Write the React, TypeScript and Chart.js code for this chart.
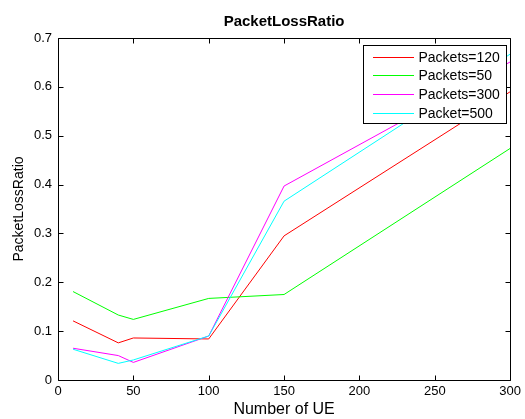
import React, { useEffect, useRef } from "react";
import { Chart, registerables } from "chart.js";

Chart.register(...registerables);

const xValues = [10, 40, 50, 100, 150, 300];
const seriesLabels = ["Packets=120", "Packets=50", "Packets=300", "Packet=500"];
const seriesColors = ["#ff0000", "#00ff00", "#ff00ff", "#00ffff"];
const packets120 = [0.121, 0.076, 0.086, 0.084, 0.295, 0.59];
const packets50 = [0.181, 0.133, 0.124, 0.167, 0.175, 0.474];
const packets300 = [0.065, 0.05, 0.036, 0.09, 0.397, 0.651];
const packet500 = [0.063, 0.034, 0.041, 0.09, 0.366, 0.667];
const xTicks = [0, 50, 100, 150, 200, 250, 300];
const yTicks = [0, 0.1, 0.2, 0.3, 0.4, 0.5, 0.6, 0.7];

const FONT = 'Arial, "Liberation Sans", sans-serif';

const boxPlugin = {
  id: "matlabBox",
  afterDatasetsDraw(chart: any) {
    const { ctx, chartArea: a, scales } = chart;
    ctx.save();
    ctx.strokeStyle = "#000";
    ctx.lineWidth = 1;
    const L = Math.round(a.left) + 0.5;
    const R = Math.round(a.right) + 0.5;
    const T = Math.round(a.top) + 0.5;
    const B = Math.round(a.bottom) + 0.5;
    ctx.beginPath();
    ctx.rect(L, T, R - L, B - T);
    ctx.stroke();
    const tl = 5;
    ctx.beginPath();
    xTicks.forEach((v) => {
      const x = Math.round(scales.x.getPixelForValue(v)) + 0.5;
      ctx.moveTo(x, B);
      ctx.lineTo(x, B - tl);
      ctx.moveTo(x, T);
      ctx.lineTo(x, T + tl);
    });
    yTicks.forEach((v) => {
      const y = Math.round(scales.y.getPixelForValue(v)) + 0.5;
      ctx.moveTo(L, y);
      ctx.lineTo(L + tl, y);
      ctx.moveTo(R, y);
      ctx.lineTo(R - tl, y);
    });
    ctx.stroke();

    // legend
    const lw = 143;
    const lh = 78;
    const lx = Math.round(a.right) - 4 - lw + 0.5;
    const ly = Math.round(a.top) + 7 + 0.5;
    ctx.fillStyle = "#fff";
    ctx.fillRect(lx, ly, lw, lh);
    ctx.strokeStyle = "#000";
    ctx.strokeRect(lx, ly, lw, lh);
    ctx.font = `14px ${FONT}`;
    ctx.textBaseline = "middle";
    ctx.textAlign = "left";
    chart.data.datasets.forEach((ds: any, i: number) => {
      const y = Math.round(ly + 11 + i * 18.7);
      ctx.fillStyle = seriesColors[i];
      ctx.fillRect(Math.round(lx) + 9, y, 41, 1);
      ctx.fillStyle = "#000";
      ctx.fillText(ds.label, lx + 55, y + 1);
    });
    ctx.restore();
  },
};

export default function App() {
  const ref = useRef<HTMLCanvasElement>(null);
  useEffect(() => {
    document.body.style.margin = "0";
    const seriesData = [packets120, packets50, packets300, packet500];
    const chart = new Chart(ref.current!, {
      type: "line",
      data: {
        datasets: seriesData.map((vals, i) => ({
          label: seriesLabels[i],
          data: xValues.map((x, j) => ({ x, y: vals[j] })),
          borderColor: seriesColors[i],
          backgroundColor: seriesColors[i],
          borderWidth: 1,
          pointRadius: 0,
          tension: 0,
          fill: false,
          order: 4 - i,
        })),
      },
      options: {
        responsive: false,
        animation: false,
        layout: { padding: { left: 0, right: 14, top: 0, bottom: 0 } },
        plugins: {
          legend: { display: false },
          tooltip: { enabled: false },
          title: {
            display: true,
            text: "PacketLossRatio",
            color: "#000",
            font: { family: FONT, size: 15, weight: "bold" },
            padding: { top: 13, bottom: 7 },
            fullSize: false,
          },
        },
        scales: {
          x: {
            type: "linear",
            min: 0,
            max: 300,
            afterBuildTicks: (s: any) => {
              s.ticks = xTicks.map((v) => ({ value: v }));
            },
            afterFit: (s: any) => {
              s.height = 39;
            },
            grid: { display: false, drawTicks: false },
            border: { display: false },
            ticks: {
              color: "#000",
              font: { family: FONT, size: 13 },
              padding: 4,
              maxRotation: 0,
            },
            title: {
              display: true,
              text: "Number of UE",
              color: "#000",
              font: { family: FONT, size: 16 },
              padding: { top: 0, bottom: 0 },
            },
          },
          y: {
            type: "linear",
            min: 0,
            max: 0.7,
            afterBuildTicks: (s: any) => {
              s.ticks = yTicks.map((v) => ({ value: v }));
            },
            afterFit: (s: any) => {
              s.width = 58;
            },
            grid: { display: false, drawTicks: false },
            border: { display: false },
            ticks: {
              color: "#000",
              font: { family: FONT, size: 13 },
              padding: 6,
              callback: (v: any) => String(Math.round(Number(v) * 10) / 10),
            },
            title: {
              display: true,
              text: "PacketLossRatio",
              color: "#000",
              font: { family: FONT, size: 14 },
              padding: { top: 11, bottom: 0 },
            },
          },
        },
      },
      plugins: [boxPlugin],
    });
    return () => chart.destroy();
  }, []);
  return (
    <div style={{ width: 525, height: 419, background: "#fff" }}>
      <canvas ref={ref} width={525} height={419} style={{ display: "block" }} />
    </div>
  );
}
